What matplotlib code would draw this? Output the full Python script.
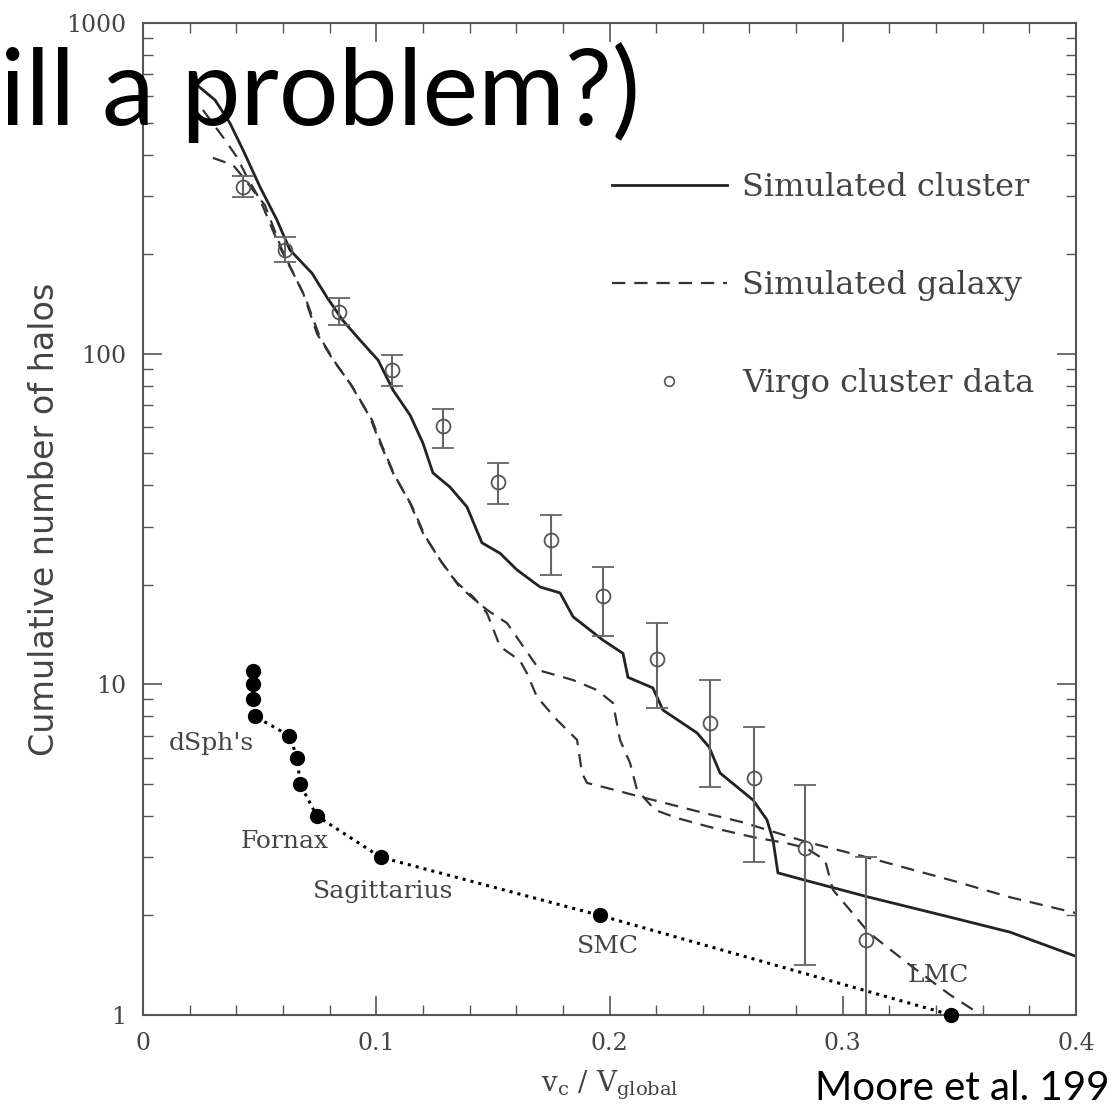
import matplotlib
matplotlib.use("Agg")
from matplotlib import pyplot as plt
from matplotlib.lines import Line2D
from matplotlib.ticker import MultipleLocator, LogLocator, FixedFormatter, FixedLocator, NullFormatter

# simulated cluster (solid)
cluster_x = [0.0232, 0.0309, 0.0373, 0.0429, 0.0502, 0.0574, 0.0630, 0.0725, 0.0789, 0.0857,
             0.0930, 0.1008, 0.1072, 0.1145, 0.1200, 0.1243, 0.1316, 0.1389, 0.1453, 0.1531,
             0.1603, 0.1702, 0.1788, 0.1844, 0.1972, 0.2058, 0.2079, 0.2186, 0.2229, 0.2375,
             0.2427, 0.2474, 0.2615, 0.2675, 0.2701, 0.2722, 0.2834, 0.3113, 0.3455, 0.3717, 0.4004]
cluster_n = [649, 585, 498, 413, 319, 254, 206, 175, 148, 126,
             110, 95.6, 77.6, 65.2, 53.7, 43.6, 39.5, 34.4, 26.8, 24.9,
             22.2, 19.7, 18.9, 16.0, 13.6, 12.4, 10.5, 9.75, 8.36, 7.13,
             6.46, 5.39, 4.47, 3.89, 3.38, 2.69, 2.56, 2.27, 1.98, 1.78, 1.50]

# simulated galaxy, two runs (dashed)
gal1_x = [0.0257, 0.0343, 0.0403, 0.0446, 0.0502, 0.0587, 0.0686, 0.0746, 0.0815, 0.0887,
          0.0973, 0.1016, 0.1072, 0.1145, 0.1200, 0.1273, 0.1346, 0.1415, 0.1475, 0.1531,
          0.1616, 0.1646, 0.1689, 0.1775, 0.1861, 0.1882, 0.1904, 0.1989, 0.2101, 0.2388,
          0.2568, 0.2842, 0.3117, 0.3460, 0.3717, 0.4004]
gal1_n = [546, 452, 393, 342, 292, 210, 153, 115, 95.7, 81.5,
          64.3, 53.7, 43.6, 35.3, 28.7, 23.8, 20.3, 18.4, 16.4, 13.0,
          11.8, 10.8, 9.16, 7.80, 6.79, 5.39, 5.03, 4.86, 4.63, 4.11,
          3.83, 3.34, 2.98, 2.56, 2.27, 2.03]

gal2_x = [0.0300, 0.0386, 0.0429, 0.0472, 0.0523, 0.0596, 0.0695, 0.0759, 0.0823, 0.0896,
          0.0982, 0.1025, 0.1080, 0.1153, 0.1209, 0.1282, 0.1355, 0.1423, 0.1475, 0.1561,
          0.1702, 0.1844, 0.1946, 0.2015, 0.2045, 0.2088, 0.2118, 0.2195, 0.2289, 0.2444,
          0.2615, 0.2757, 0.2842, 0.2924, 0.2958, 0.3113, 0.3297, 0.3460, 0.3593]
gal2_n = [391, 372, 342, 312, 281, 206, 148, 112, 94.3, 79.8,
          63.0, 52.6, 42.7, 34.6, 28.1, 23.3, 19.8, 18.0, 16.8, 15.3,
          11.0, 10.3, 9.61, 8.78, 6.79, 5.78, 4.79, 4.17, 3.94, 3.68,
          3.45, 3.31, 3.20, 2.94, 2.39, 1.77, 1.40, 1.15, 1.0]

# Virgo cluster data with error bars
virgo_x = [0.0429, 0.0609, 0.0840, 0.1068, 0.1286, 0.1522, 0.1749, 0.1972, 0.2204,
           0.2431, 0.2619, 0.2838, 0.3100]
virgo_n = [320, 206, 134, 89, 60.4, 40.9, 27.3, 18.5, 11.9, 7.64, 5.21, 3.2, 1.69]
virgo_hi = [345, 225, 147, 99.3, 68, 46.6, 32.6, 22.6, 15.3, 10.3, 7.42, 4.96, 3.0]
virgo_lo = [298, 190, 122, 80, 52, 35, 21.4, 14.0, 8.5, 4.89, 2.9, 1.42, 0.5]

# Milky Way satellites
sat_x = [0.0470, 0.0470, 0.0472, 0.0480, 0.0626, 0.0662, 0.0673, 0.0745, 0.1019, 0.1959, 0.3464]
sat_n = [11, 10, 9, 8, 7, 6, 5, 4, 3, 2, 1]

sat_labels = ["dSph's", "Fornax", "Sagittarius", "SMC", "LMC"]
sat_label_x = [0.0295, 0.0609, 0.1029, 0.1994, 0.3408]
sat_label_n = [6.6, 3.34, 2.36, 1.61, 1.32]

fig = plt.figure(figsize=(11.16, 11.13), dpi=100)
ax = fig.add_axes([0.1281, 0.0881, 0.8361, 0.8912])

ink = '#222222'
ax.plot(cluster_x, cluster_n, '-', color=ink, lw=2.0)
ax.plot(gal1_x, gal1_n, '--', color='#333333', lw=1.6, dashes=(6, 4))
ax.plot(gal2_x, gal2_n, '--', color='#333333', lw=1.6, dashes=(6, 4))

yerr = [[n - lo for n, lo in zip(virgo_n, virgo_lo)],
        [hi - n for n, hi in zip(virgo_n, virgo_hi)]]
ax.errorbar(virgo_x, virgo_n, yerr=yerr, fmt='o', ms=10, mfc='none', mec='#555555',
            mew=1.3, ecolor='#666666', elinewidth=1.5, capsize=8, capthick=1.5)

ax.plot(sat_x, sat_n, ':', color='black', lw=2.2, marker='o', ms=10, mfc='black', mec='black',
        clip_on=False, zorder=5)

for lab, lx, ln in zip(sat_labels, sat_label_x, sat_label_n):
    ax.text(lx, ln, lab, family='DejaVu Serif', fontsize=18, color='#444444',
            ha='center', va='center')

ax.set_xlim(0, 0.4)
ax.set_yscale('log')
ax.set_ylim(1, 1000)

ax.xaxis.set_minor_locator(MultipleLocator(0.02))
ax.xaxis.set_major_locator(FixedLocator([0, 0.1, 0.2, 0.3, 0.4]))
ax.xaxis.set_major_formatter(FixedFormatter(['0', '0.1', '0.2', '0.3', '0.4']))
ax.yaxis.set_major_locator(FixedLocator([1, 10, 100, 1000]))
ax.yaxis.set_major_formatter(FixedFormatter(['1', '10', '100', '1000']))
ax.yaxis.set_minor_locator(LogLocator(base=10, subs=range(2, 10)))
ax.yaxis.set_minor_formatter(NullFormatter())

ax.tick_params(which='both', direction='in', top=True, right=True, colors='#555555',
               labelcolor='#444444')
ax.tick_params(which='major', length=14, width=1.2, labelsize=17, pad=12)
ax.tick_params(which='minor', length=7, width=1.0)
for lab in ax.get_xticklabels() + ax.get_yticklabels():
    lab.set_family('DejaVu Serif')
for s in ax.spines.values():
    s.set_color('#555555')
    s.set_linewidth(1.5)

ax.set_ylabel('Cumulative number of halos', family='DejaVu Sans', fontsize=24,
              color='#444444', labelpad=4)
ax.set_xlabel(r'$\mathregular{v_c\ /\ V_{global}}$', family='DejaVu Serif', fontsize=20,
              color='#444444', labelpad=10)

handles = [Line2D([], [], color=ink, lw=2.0),
           Line2D([], [], color='#333333', lw=1.6, ls='--', dashes=(6, 4)),
           Line2D([], [], color='#555555', marker='o', ms=7, mfc='none', ls='none', mew=1.2)]
leg = ax.legend(handles, ['Simulated cluster', 'Simulated galaxy', 'Virgo cluster data'],
                loc='upper right', bbox_to_anchor=(0.986, 0.879), frameon=False,
                handlelength=3.6, handletextpad=0.47, labelspacing=2.1,
                prop={'family': 'DejaVu Serif', 'size': 23})
for t in leg.get_texts():
    t.set_color('#444444')

# slide overlay text
fig.text(0.0, 0.8877, 'ill a problem?)', family='Lato', fontsize=76, color='black',
         ha='left', va='baseline')
fig.text(0.730, 0.0117, 'Moore et al. 199', family='Lato', fontsize=29, color='black',
         ha='left', va='baseline')

fig.savefig('out.png', dpi=100)
